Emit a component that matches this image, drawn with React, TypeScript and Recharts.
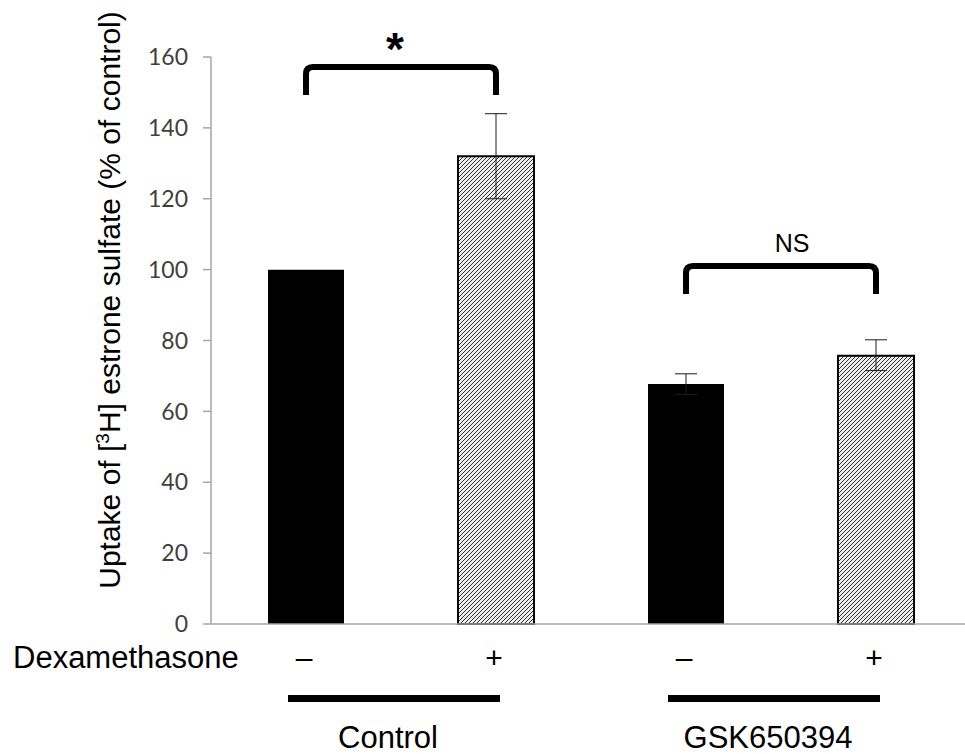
import React from 'react';
import { BarChart, Bar, XAxis, YAxis, Cell, ErrorBar, ReferenceLine } from 'recharts';

// ---- data ----
const categories = ['Control –', 'Control +', 'GSK650394 –', 'GSK650394 +'];
const dexSigns = ['–', '+', '–', '+'];
const groupLabels = ['Control', 'GSK650394'];
const uptake = [100, 132, 67.7, 75.7];
const errLow = [null, 12, 2.9, 4.2];
const errHigh = [null, 12, 2.9, 4.5];
const hatched = [false, true, false, true];
const yTicks = [0, 20, 40, 60, 80, 100, 120, 140, 160];
const brackets = [
  { from: 0, to: 1, top: 157.2, label: '*' },
  { from: 2, to: 3, top: 101, label: 'NS' },
];

const data = categories.map((c, i) => ({
  cat: c,
  value: uptake[i],
  err: errLow[i] == null ? null : [errLow[i], errHigh[i]],
}));

const ARIAL = '"Liberation Sans", Arial, sans-serif';

function DexTick(props: any) {
  const { x, y, payload } = props;
  const i = payload.index;
  return (
    <g>
      <text x={x - 2} y={y + 44} textAnchor="middle" fontSize={30} fontFamily={ARIAL} fill="#000">
        {dexSigns[i]}
      </text>
      {i % 2 === 0 && (
        <g>
          <rect x={x - 18} y={y + 71} width={212} height={7} fill="#000" />
          <text x={x + 82} y={y + 124} textAnchor="middle" fontSize={31} fontFamily={ARIAL} fill="#000">
            {groupLabels[i / 2]}
          </text>
        </g>
      )}
      {i === 0 && (
        <text x={13} y={y + 44} textAnchor="start" fontSize={31} fontFamily={ARIAL} fill="#000">
          Dexamethasone
        </text>
      )}
    </g>
  );
}

function makeBracket(label: string) {
  return (props: any) => {
    const { x1, y1, x2 } = props;
    const leg = 28;
    const r = 7;
    const l = Math.min(x1, x2);
    const rr = Math.max(x1, x2);
    const d = `M${l},${y1 + leg} V${y1 + r} Q${l},${y1} ${l + r},${y1} H${rr - r} Q${rr},${y1} ${rr},${y1 + r} V${y1 + leg}`;
    const mid = (l + rr) / 2;
    const isStar = label === '*';
    return (
      <g>
        <path d={d} fill="none" stroke="#000" strokeWidth={6} />
        <text
          x={isStar ? mid - 6 : mid + 11}
          y={isStar ? y1 - 2 : y1 - 14}
          textAnchor="middle"
          fontSize={isStar ? 46 : 25}
          fontWeight={isStar ? 'bold' : 'normal'}
          fontFamily={ARIAL}
          fill="#000"
        >
          {label}
        </text>
      </g>
    );
  };
}

function YLabel() {
  return (
    <text
      x={120}
      y={300}
      transform="rotate(-90, 120, 300)"
      textAnchor="middle"
      fontSize={30}
      fontFamily={ARIAL}
      fill="#000"
    >
      <tspan>Uptake of [</tspan>
      <tspan fontSize={19} dy={-11}>3</tspan>
      <tspan dy={11}>H] estrone sulfate (% of control)</tspan>
    </text>
  );
}

export default function App() {
  return (
    <div style={{ position: 'absolute', left: 0, top: 0, width: 965, height: 754, overflow: 'hidden', background: '#fff' }}>
      <BarChart width={980} height={754} data={data} margin={{ top: 57, right: 9, bottom: 0, left: 0 }}>
        <defs>
          <pattern id="hatch" patternUnits="userSpaceOnUse" width={4} height={4}>
            <rect width={4} height={4} fill="#ededed" />
            <path d="M-1,1 l2,-2 M0,4 l4,-4 M3,5 l2,-2" stroke="#333" strokeWidth={1} />
          </pattern>
        </defs>
        <XAxis
          dataKey="cat"
          height={130}
          interval={0}
          tickLine={false}
          tickSize={0}
          tickMargin={0}
          axisLine={{ stroke: '#a6a6a6', strokeWidth: 1.5 }}
          tick={<DexTick />}
        />
        <YAxis
          width={211}
          domain={[0, 160]}
          ticks={yTicks}
          interval={0}
          tickSize={8}
          tickMargin={15}
          axisLine={{ stroke: '#a6a6a6', strokeWidth: 1.5 }}
          tickLine={{ stroke: '#a6a6a6', strokeWidth: 1.5 }}
          tick={{ fontSize: 23, fontFamily: 'Lato, sans-serif', fill: '#404040' }}
          label={YLabel}
        />
        <Bar dataKey="value" barSize={76} isAnimationActive={false}>
          {data.map((d, i) => (
            <Cell
              key={d.cat}
              fill={hatched[i] ? 'url(#hatch)' : '#000'}
              stroke="#000"
              strokeWidth={hatched[i] ? 2 : 0}
            />
          ))}
          <ErrorBar dataKey="err" width={11} stroke="#1c1c1c" strokeWidth={1} direction="y" isAnimationActive={false} />
        </Bar>
        {brackets.map((b) => (
          <ReferenceLine
            key={b.label}
            segment={[
              { x: categories[b.from], y: b.top },
              { x: categories[b.to], y: b.top },
            ]}
            shape={makeBracket(b.label)}
            ifOverflow="visible"
          />
        ))}
      </BarChart>
    </div>
  );
}
